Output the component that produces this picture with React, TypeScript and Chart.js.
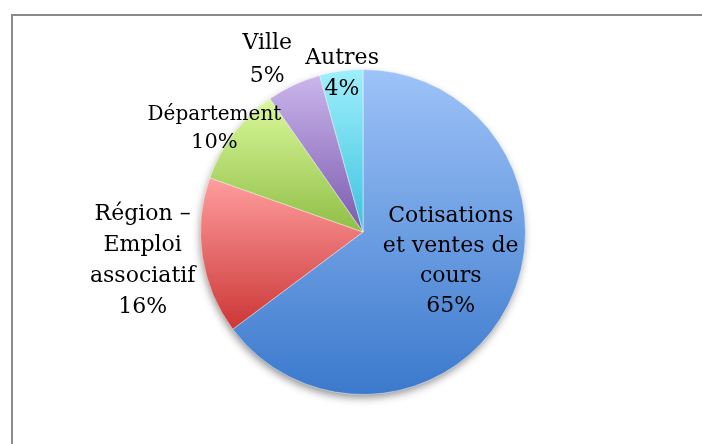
import React, { useEffect, useRef } from "react";
import { Chart, registerables } from "chart.js";

Chart.register(...registerables);

const categories = [
  "Cotisations et ventes de cours",
  "Région – Emploi associatif",
  "Département",
  "Ville",
  "Autres",
];
const values = [64.8, 15.6, 9.9, 5.4, 4.3];
const labelLines = [
  ["Cotisations", "et ventes de", "cours"],
  ["Région –", "Emploi", "associatif"],
  ["Département"],
  ["Ville"],
  ["Autres"],
];
const lightColors = ["#9EC3F8", "#FF9E9E", "#DAF99C", "#CBB6EC", "#9FEFFB"];
const darkColors = ["#3B79CC", "#CC3636", "#8FBE45", "#7A5AAE", "#3CC3DE"];

// label layout: offsets of the first baseline from the pie centre, in units of a 163px radius
const labelLayout = [
  { dx: 88, dy: -10, gap: 30, size: 22, nameSize: 22 },
  { dx: -221, dy: -12, gap: 31, size: 22, nameSize: 22 },
  { dx: -149, dy: -112, gap: 28, size: 21, nameSize: 20 },
  { dx: -96, dy: -184, gap: 33, size: 22, nameSize: 22 },
  { dx: -21, dy: -169, gap: 31, size: 22, nameSize: 22 },
];
const FONT = '"DejaVu Serif", serif';

function sliceGradient(ctx: any) {
  const i = ctx.dataIndex;
  const chart = ctx.chart;
  const area = chart.chartArea;
  if (!area) return lightColors[i];
  const cx = (area.left + area.right) / 2;
  const cy = (area.top + area.bottom) / 2;
  const r = Math.min(area.right - area.left, area.bottom - area.top) / 2;
  const total = values.reduce((a, b) => a + b, 0);
  let before = 0;
  for (let k = 0; k < i; k++) before += values[k];
  const s = -Math.PI / 2 + (2 * Math.PI * before) / total;
  const e = s + (2 * Math.PI * values[i]) / total;
  const ys = [cy, cy + r * Math.sin(s), cy + r * Math.sin(e)];
  if (s <= -Math.PI / 2 + 1e-6 || e >= 1.5 * Math.PI - 1e-6) ys.push(cy - r);
  if (s <= Math.PI / 2 && e >= Math.PI / 2) ys.push(cy + r);
  const minY = Math.min(...ys);
  const maxY = Math.max(...ys);
  const g = chart.ctx.createLinearGradient(0, minY, 0, maxY);
  g.addColorStop(0, lightColors[i]);
  g.addColorStop(1, darkColors[i]);
  return g;
}

const framePlugin = {
  id: "frame",
  beforeDraw(chart: any) {
    const c = chart.ctx;
    c.save();
    c.strokeStyle = "#8a8a8a";
    c.lineWidth = 2;
    c.strokeRect(12, 15, chart.width + 20, chart.height + 20);
    c.restore();
  },
};

const shadowPlugin = {
  id: "pieShadow",
  beforeDatasetsDraw(chart: any) {
    const arc = chart.getDatasetMeta(0).data[0];
    if (!arc) return;
    const c = chart.ctx;
    c.save();
    c.shadowColor = "rgba(0,0,0,0.45)";
    c.shadowBlur = 9;
    c.shadowOffsetX = -1;
    c.shadowOffsetY = 4;
    c.fillStyle = "#999";
    c.beginPath();
    c.arc(arc.x, arc.y, arc.outerRadius - 1, 0, Math.PI * 2);
    c.fill();
    c.restore();
  },
};

const labelPlugin = {
  id: "pieLabels",
  afterDatasetsDraw(chart: any) {
    const meta = chart.getDatasetMeta(0);
    const total = values.reduce((a, b) => a + b, 0);
    const c = chart.ctx;
    c.save();
    c.fillStyle = "#000";
    c.textAlign = "center";
    c.textBaseline = "alphabetic";
    meta.data.forEach((arc: any, i: number) => {
      const k = arc.outerRadius / 163;
      const L = labelLayout[i];
      const x = arc.x + L.dx * k;
      let y = arc.y + L.dy * k;
      const pct = Math.round((values[i] / total) * 100) + "%";
      const lines = [...labelLines[i], pct];
      lines.forEach((t, j) => {
        const size = j < lines.length - 1 ? L.nameSize : L.size;
        c.font = `${size}px ${FONT}`;
        c.fillText(t, x, y);
        y += L.gap;
      });
    });
    c.restore();
  },
};

export default function App() {
  const ref = useRef<HTMLCanvasElement | null>(null);
  useEffect(() => {
    if (!ref.current) return;
    const chart = new Chart(ref.current, {
      type: "pie",
      data: {
        labels: categories,
        datasets: [
          {
            data: values,
            backgroundColor: sliceGradient as any,
            borderColor: "rgba(255,255,255,0.45)",
            borderWidth: 1,
          },
        ],
      },
      options: {
        animation: false,
        responsive: false,
        layout: { padding: { left: 200, right: 176, top: 69, bottom: 49 } },
        plugins: {
          legend: { display: false },
          tooltip: { enabled: false },
        },
      },
      plugins: [framePlugin, shadowPlugin, labelPlugin],
    });
    return () => chart.destroy();
  }, []);
  return (
    <div style={{ position: "fixed", left: 0, top: 0, width: 702, height: 444, background: "#fff" }}>
      <canvas ref={ref} width={702} height={444} style={{ width: 702, height: 444, display: "block" }} />
    </div>
  );
}
